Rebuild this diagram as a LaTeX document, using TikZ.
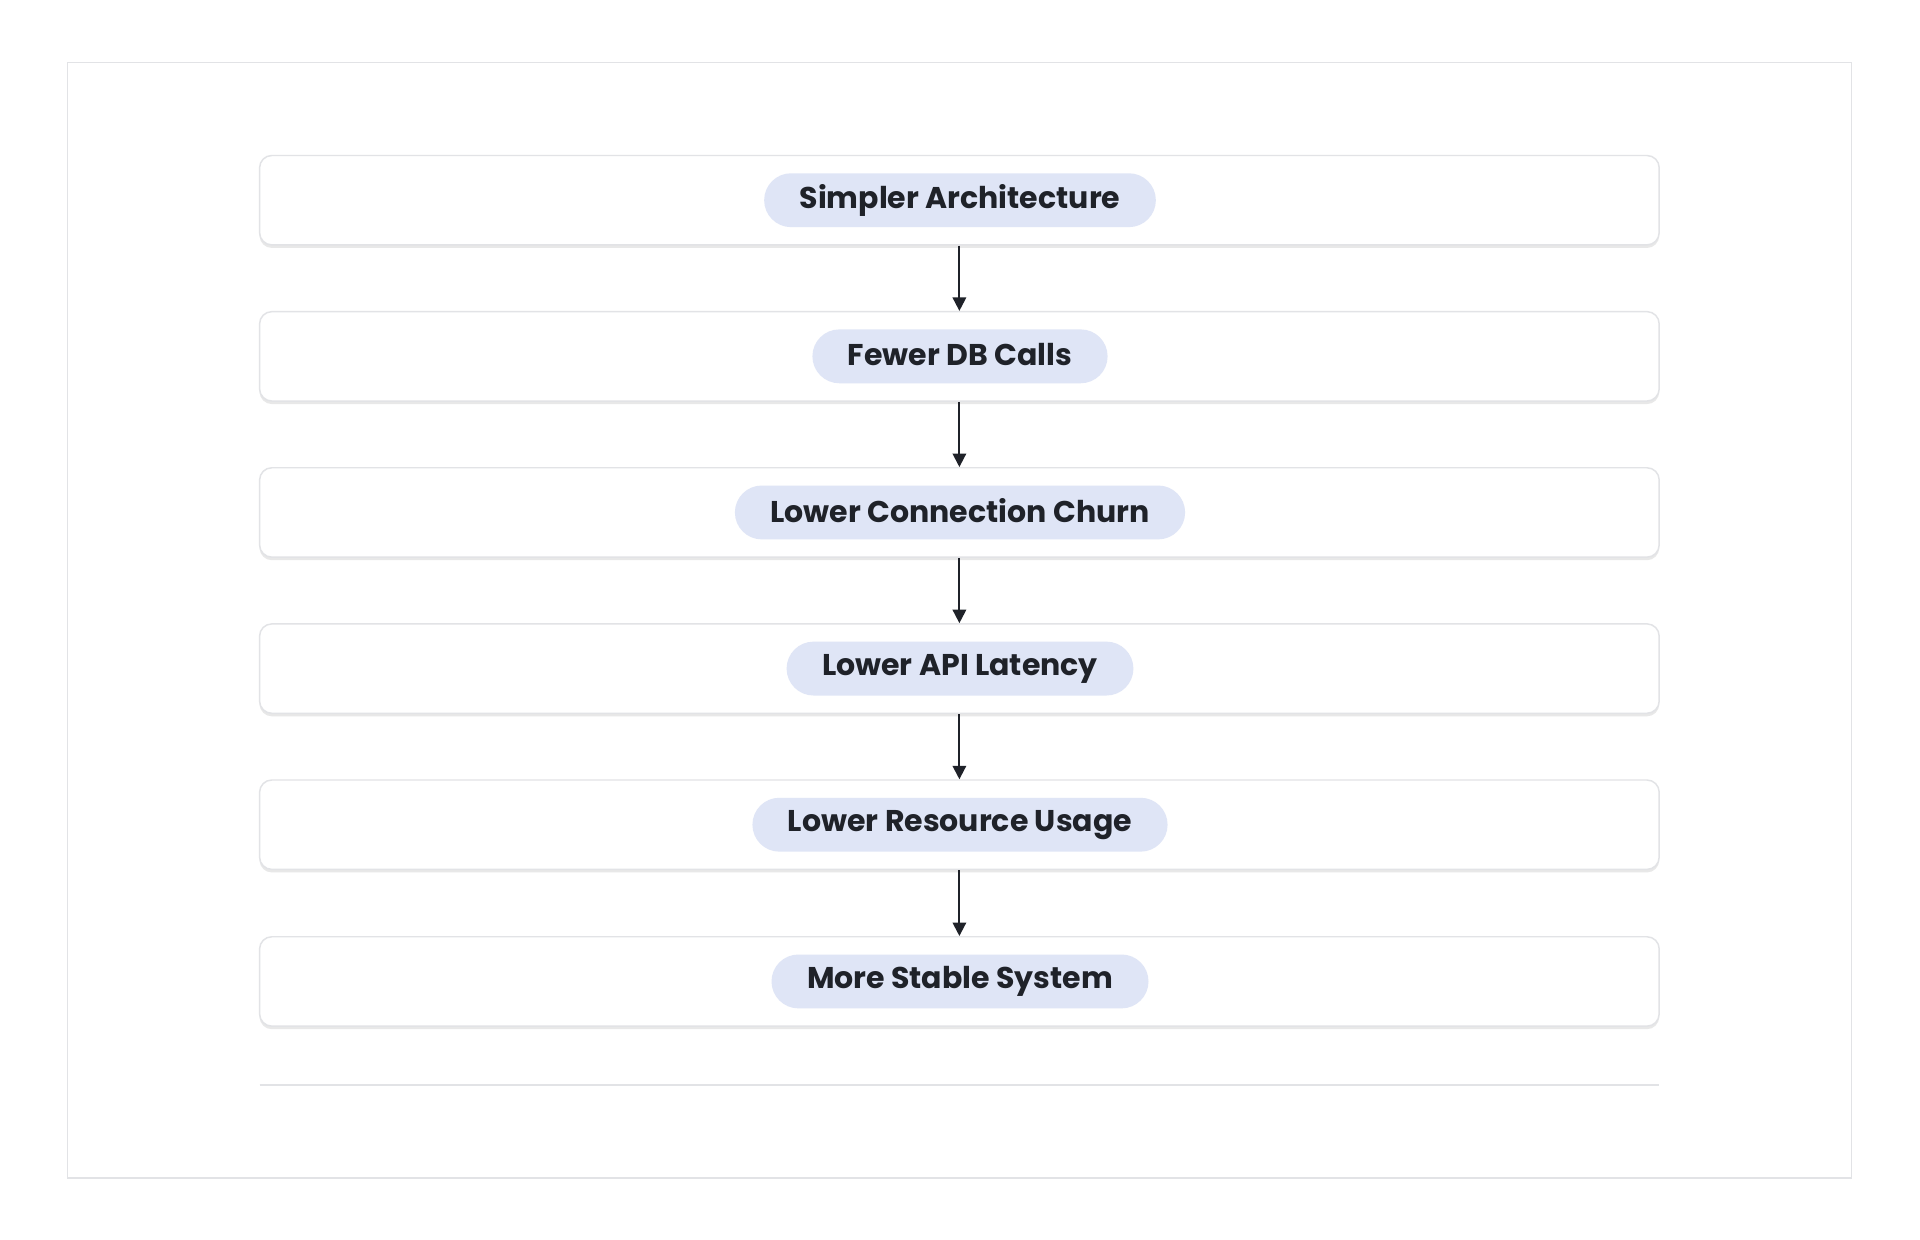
\documentclass[tikz,border=0pt]{standalone}
\usepackage{fontspec}
\setmainfont{Poppins}
\usetikzlibrary{arrows.meta}
\definecolor{pill}{HTML}{DFE5F6}
\definecolor{txt}{HTML}{1F2229}
\definecolor{edge}{HTML}{E2E3E6}
\begin{document}
\begin{tikzpicture}[x=1pt,y=-1pt,
  box/.style={draw=edge,line width=1.2pt,fill=white,rounded corners=10pt,minimum width=1143pt,minimum height=73pt,inner sep=0pt},
  shadow/.style={fill=black!9,rounded corners=10pt,minimum width=1143pt,minimum height=73pt,inner sep=0pt},
  pill/.style={fill=pill,rounded corners=22pt,minimum height=44pt,inner xsep=29pt,inner ysep=0pt,text=txt,font=\fontsize{24.5}{28}\selectfont\bfseries},
  arr/.style={-{Triangle[length=11pt,width=11pt]},line width=1.6pt,draw=txt}]
\useasboundingbox (0,0) rectangle (1568,1012);
\fill[white] (0,0) rectangle (1568,1012);
\draw[edge,line width=1pt] (55,51) rectangle (1512,962);
\foreach \n/\y/\t in {a/163.5/Simpler Architecture,b/291/Fewer DB Calls,c/418.5/Lower Connection Churn,d/546/Lower API Latency,e/673.5/Lower Resource Usage,f/801.5/More Stable System}{
  \node[shadow] at (783.5,\y+2.5) {};
  \node[box] (\n) at (783.5,\y) {};
  \node[pill] (p\n) at (784,\y) {\raisebox{3pt}{\t}};
}
\foreach \u/\v in {a/b,b/c,c/d,d/e,e/f}{
  \draw[arr] (\u.south) -- (\v.north);
}
\coordinate (l1) at (212,886);
\coordinate (l2) at (1355,886);
\draw[edge,line width=1.2pt] (l1) -- (l2);
\end{tikzpicture}
\end{document}
